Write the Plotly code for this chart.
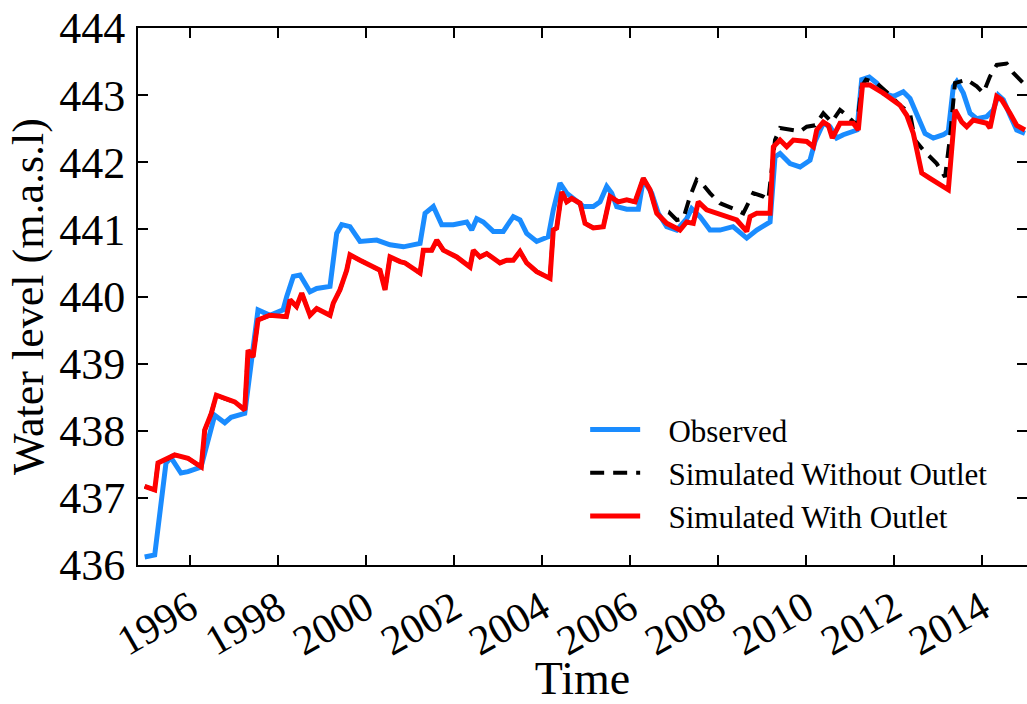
import numpy as np
import pandas as pd
import plotly.graph_objects as go

# ---- data (decimal years, water level m.a.s.l.) ----
obs_t = [1994.970, 1995.198, 1995.455, 1995.568, 1995.795, 1995.955, 1996.250, 1996.561, 1996.789,
         1996.932, 1997.243, 1997.545, 1997.818, 1998.114, 1998.198, 1998.348, 1998.500, 1998.727,
         1998.880, 1999.182, 1999.334, 1999.448, 1999.636, 1999.864, 2000.243, 2000.545, 2000.848,
         2001.227, 2001.341, 2001.530, 2001.720, 2001.984, 2002.289, 2002.402, 2002.516, 2002.666,
         2002.893, 2003.120, 2003.348, 2003.500, 2003.652, 2003.880, 2004.143, 2004.257, 2004.409,
         2004.561, 2004.711, 2004.939, 2005.166, 2005.318, 2005.470, 2005.584, 2005.698, 2005.925,
         2006.189, 2006.302, 2006.493, 2006.643, 2006.834, 2007.061, 2007.289, 2007.402, 2007.591,
         2007.818, 2008.045, 2008.341, 2008.652, 2008.880, 2009.182, 2009.295, 2009.409, 2009.636,
         2009.864, 2010.091, 2010.205, 2010.393, 2010.545, 2010.698, 2010.848, 2011.159, 2011.266,
         2011.439, 2011.607, 2011.757, 2011.984, 2012.211, 2012.364, 2012.516, 2012.705, 2012.893,
         2013.120, 2013.234, 2013.348, 2013.425, 2013.575, 2013.727, 2013.880, 2014.107, 2014.257,
         2014.370, 2014.484, 2014.636, 2014.789, 2014.977]
obs_v = [436.12, 436.15, 437.52, 437.60, 437.37, 437.39, 437.46, 438.23, 438.12,
         438.20, 438.26, 439.80, 439.72, 439.80, 440.00, 440.30, 440.32, 440.07,
         440.12, 440.15, 440.94, 441.07, 441.04, 440.82, 440.84, 440.77, 440.74,
         440.79, 441.24, 441.34, 441.07, 441.07, 441.11, 440.99, 441.16, 441.11,
         440.97, 440.97, 441.19, 441.14, 440.94, 440.82, 440.89, 441.29, 441.69,
         441.54, 441.46, 441.34, 441.34, 441.41, 441.64, 441.54, 441.34, 441.30,
         441.30, 441.74, 441.54, 441.24, 441.04, 440.99, 441.16, 441.31, 441.19,
         440.99, 440.99, 441.04, 440.87, 440.99, 441.11, 442.08, 442.13, 441.98,
         441.93, 442.03, 442.31, 442.58, 442.53, 442.36, 442.41, 442.48, 443.23,
         443.27, 443.18, 443.03, 442.98, 443.05, 442.95, 442.73, 442.43, 442.36,
         442.41, 442.46, 443.13, 443.20, 443.03, 442.73, 442.65, 442.68, 442.78,
         443.00, 442.93, 442.70, 442.48, 442.43]

with_t = [1994.970, 1995.198, 1995.273, 1995.425, 1995.652, 1995.955, 1996.257, 1996.334, 1996.484,
          1996.598, 1996.789, 1997.016, 1997.243, 1997.318, 1997.432, 1997.545, 1997.811, 1998.075,
          1998.189, 1998.273, 1998.420, 1998.539, 1998.727, 1998.880, 1999.182, 1999.257, 1999.409,
          1999.561, 1999.636, 1999.864, 2000.166, 2000.318, 2000.432, 2000.545, 2000.773, 2000.886,
          2001.227, 2001.302, 2001.493, 2001.607, 2001.757, 2002.061, 2002.364, 2002.439, 2002.591,
          2002.743, 2003.045, 2003.198, 2003.348, 2003.500, 2003.652, 2003.880, 2004.182, 2004.257,
          2004.334, 2004.448, 2004.561, 2004.675, 2004.864, 2004.977, 2005.166, 2005.393, 2005.545,
          2005.734, 2005.925, 2006.114, 2006.302, 2006.455, 2006.607, 2006.834, 2007.136, 2007.289,
          2007.439, 2007.552, 2007.743, 2008.045, 2008.425, 2008.652, 2008.727, 2008.880, 2009.182,
          2009.257, 2009.409, 2009.561, 2009.711, 2010.016, 2010.166, 2010.243, 2010.393, 2010.507,
          2010.598, 2010.773, 2011.075, 2011.189, 2011.284, 2011.455, 2011.757, 2012.136, 2012.289,
          2012.439, 2012.630, 2012.818, 2013.045, 2013.234, 2013.386, 2013.539, 2013.652, 2013.802,
          2014.107, 2014.182, 2014.334, 2014.448, 2014.636, 2014.789, 2014.977]
with_v = [437.17, 437.12, 437.52, 437.56, 437.64, 437.59, 437.46, 438.01, 438.26,
          438.53, 438.48, 438.43, 438.31, 439.20, 439.10, 439.65, 439.72, 439.70,
          439.70, 439.95, 439.85, 440.05, 439.72, 439.82, 439.72, 439.90, 440.10,
          440.39, 440.62, 440.54, 440.44, 440.39, 440.10, 440.59, 440.52, 440.50,
          440.35, 440.69, 440.69, 440.84, 440.69, 440.59, 440.44, 440.69, 440.59,
          440.64, 440.50, 440.54, 440.54, 440.67, 440.50, 440.37, 440.27, 440.99,
          441.02, 441.56, 441.41, 441.46, 441.39, 441.09, 441.02, 441.04, 441.49,
          441.41, 441.44, 441.41, 441.76, 441.59, 441.24, 441.09, 440.99, 441.11,
          441.09, 441.41, 441.29, 441.22, 441.14, 440.97, 441.19, 441.24, 441.24,
          442.23, 442.33, 442.23, 442.33, 442.31, 442.23, 442.48, 442.60, 442.55,
          442.36, 442.58, 442.58, 442.48, 443.15, 443.15, 443.03, 442.85, 442.70,
          442.43, 441.84, 441.76, 441.66, 441.59, 442.78, 442.60, 442.53, 442.63,
          442.58, 442.51, 442.98, 442.93, 442.73, 442.55, 442.48]

without_t = [1994.970, 1995.198, 1995.273, 1995.425, 1995.652, 1995.955, 1996.257, 1996.334, 1996.484,
             1996.598, 1996.789, 1997.016, 1997.243, 1997.318, 1997.432, 1997.545, 1997.811, 1998.075,
             1998.189, 1998.273, 1998.420, 1998.539, 1998.727, 1998.880, 1999.182, 1999.257, 1999.409,
             1999.561, 1999.636, 1999.864, 2000.166, 2000.318, 2000.432, 2000.545, 2000.773, 2000.886,
             2001.227, 2001.302, 2001.493, 2001.607, 2001.757, 2002.061, 2002.364, 2002.439, 2002.591,
             2002.743, 2003.045, 2003.198, 2003.348, 2003.500, 2003.652, 2003.880, 2004.182, 2004.257,
             2004.334, 2004.448, 2004.561, 2004.675, 2004.864, 2004.977, 2005.166, 2005.393, 2005.545,
             2005.734, 2005.925, 2006.114, 2006.302, 2006.455, 2006.607, 2006.834, 2006.909, 2007.061,
             2007.211, 2007.364, 2007.515, 2007.666, 2007.818, 2008.045, 2008.348, 2008.575, 2008.802,
             2009.030, 2009.143, 2009.295, 2009.409, 2009.636, 2009.864, 2010.016, 2010.205, 2010.393,
             2010.584, 2010.773, 2010.925, 2011.159, 2011.266, 2011.364, 2011.607, 2011.909, 2012.136,
             2012.364, 2012.477, 2012.666, 2012.970, 2013.159, 2013.273, 2013.386, 2013.652, 2013.880,
             2014.030, 2014.182, 2014.334, 2014.561, 2014.712, 2014.939]
without_v = [437.17, 437.12, 437.52, 437.56, 437.64, 437.59, 437.46, 438.01, 438.26,
             438.53, 438.48, 438.43, 438.31, 439.20, 439.10, 439.65, 439.72, 439.70,
             439.70, 439.95, 439.85, 440.05, 439.72, 439.82, 439.72, 439.90, 440.10,
             440.39, 440.62, 440.54, 440.44, 440.39, 440.10, 440.59, 440.52, 440.50,
             440.35, 440.69, 440.69, 440.84, 440.69, 440.59, 440.44, 440.69, 440.59,
             440.64, 440.50, 440.54, 440.54, 440.67, 440.50, 440.37, 440.27, 440.99,
             441.02, 441.56, 441.41, 441.46, 441.39, 441.09, 441.02, 441.04, 441.49,
             441.41, 441.44, 441.41, 441.76, 441.59, 441.24, 441.09, 441.24, 441.14,
             441.16, 441.49, 441.74, 441.66, 441.54, 441.39, 441.31, 441.24, 441.54,
             441.49, 441.44, 442.33, 442.51, 442.48, 442.46, 442.53, 442.55, 442.73,
             442.60, 442.78, 442.70, 442.55, 443.13, 443.23, 443.18, 443.00, 442.85,
             442.73, 442.33, 442.18, 441.98, 441.78, 442.38, 443.18, 443.23, 443.13,
             443.03, 443.28, 443.45, 443.47, 443.33, 443.18]

series_names = ["Observed", "Simulated Without Outlet", "Simulated With Outlet"]
y_ticks = [436, 437, 438, 439, 440, 441, 442, 443, 444]
x_range_years = [1994.818, 2015.023]


def to_dates(years):
    out = []
    for y in years:
        yi = int(np.floor(y))
        start = pd.Timestamp(year=yi, month=1, day=1)
        end = pd.Timestamp(year=yi + 1, month=1, day=1)
        out.append(start + (end - start) * (y - yi))
    return out


FONT = "Liberation Serif, Times New Roman, serif"
PAD = "\u00a0\u00a0\u00a0"

fig = go.Figure()
fig.add_trace(go.Scatter(x=to_dates(obs_t), y=obs_v, mode="lines", name=PAD + series_names[0],
                         line=dict(color="#1A8CFF", width=5)))
fig.add_trace(go.Scatter(x=to_dates(without_t), y=without_v, mode="lines",
                         name=PAD + series_names[1],
                         line=dict(color="black", width=4, dash="14px,9px")))
fig.add_trace(go.Scatter(x=to_dates(with_t), y=with_v, mode="lines",
                         name=PAD + series_names[2],
                         line=dict(color="#FF0000", width=5)))

rng = to_dates(x_range_years)
fig.update_layout(
    width=1027, height=704,
    margin=dict(l=138, r=0, t=28, b=139, autoexpand=False),
    paper_bgcolor="white", plot_bgcolor="white",
    font=dict(family=FONT, color="black"),
    showlegend=True,
    legend=dict(x=0.503, y=0.302, xanchor="left", yanchor="top",
                font=dict(family=FONT, size=31, color="black"),
                bgcolor="rgba(255,255,255,0)", borderwidth=0, itemwidth=50,
                tracegroupgap=0),
    xaxis=dict(range=rng, type="date", tick0="1996-01-01", dtick="M24", tickformat="%Y",
               tickangle=-30, ticks="inside", ticklen=10, tickwidth=1.5, tickcolor="black",
               showline=True, linewidth=2, linecolor="black", mirror="ticks",
               showgrid=False, zeroline=False, automargin=False,
               tickfont=dict(family=FONT, size=42, color="black"),
               title=dict(text="Time", font=dict(family=FONT, size=46, color="black"), standoff=8)),
    yaxis=dict(range=[436, 444], tickvals=y_ticks, ticks="inside", ticklen=10, tickwidth=1.5,
               tickcolor="black", showline=True, linewidth=2, linecolor="black", mirror="ticks",
               showgrid=False, zeroline=False, ticklabelstandoff=2, automargin=False,
               tickfont=dict(family=FONT, size=44, color="black"),
               title=dict(text="Water level (m.a.s.l)", font=dict(family=FONT, size=44, color="black"),
                          standoff=2)),
)

fig.write_html("out.html", config={"displayModeBar": False},
               post_script="document.body.style.margin='0px';document.body.style.overflow='hidden';")
